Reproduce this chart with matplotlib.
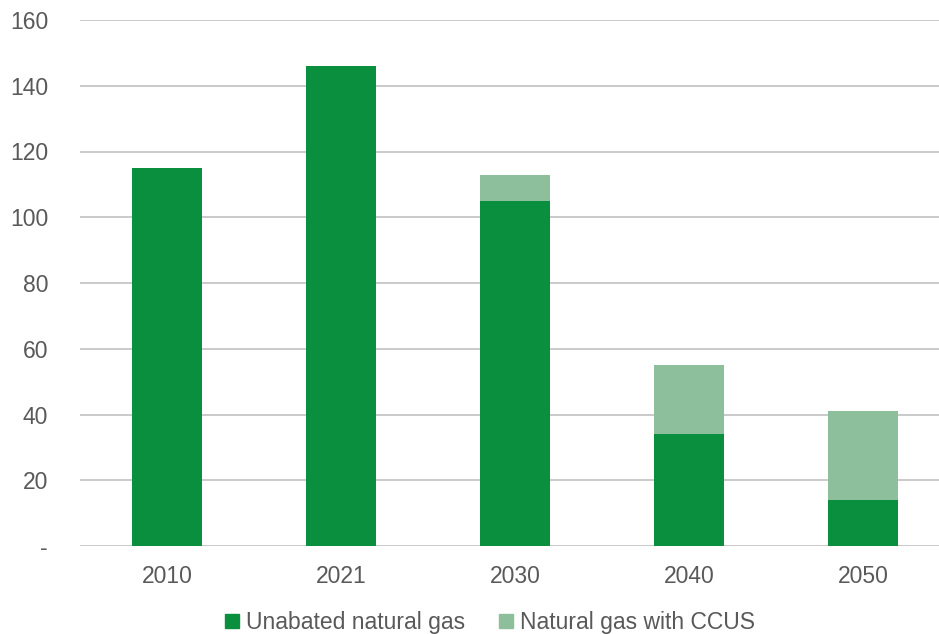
import matplotlib.pyplot as plt
from matplotlib.patches import Patch

plt.rcParams['font.family'] = ['Liberation Sans', 'DejaVu Sans']

years = ['2010', '2021', '2030', '2040', '2050']
unabated = [115, 146, 105, 34, 14]
with_ccus = [0, 0, 8, 21, 27]
y_ticks = [0, 20, 40, 60, 80, 100, 120, 140, 160]
y_labels = ['-', '20', '40', '60', '80', '100', '120', '140', '160']

dark = '#0a8f3e'
light = '#8dbf9d'
text_col = '#595959'

fig = plt.figure(figsize=(9.39, 6.34), dpi=100)
ax = fig.add_axes([80 / 939, 88 / 634, 870 / 939, 526 / 634])

x = range(len(years))
ax.bar(x, unabated, width=0.4, color=dark, zorder=3)
ax.bar(x, with_ccus, width=0.4, bottom=unabated, color=light, zorder=3)

ax.set_xlim(-0.5, len(years) - 0.5)
ax.set_ylim(0, 160)
ax.set_yticks(y_ticks)
ax.set_yticklabels(y_labels)
ax.set_xticks(list(x))
ax.set_xticklabels(years)
ax.grid(axis='y', color='#c6c6c6', linewidth=1.3, zorder=0)
ax.tick_params(length=0, labelsize=16.5, colors=text_col)
ax.tick_params(axis='y', pad=23)
ax.tick_params(axis='x', pad=14)
for s in ax.spines.values():
    s.set_visible(False)

handles = [Patch(color=dark, label='Unabated natural gas'),
           Patch(color=light, label='Natural gas with CCUS')]
fig.legend(handles=handles, loc='center', bbox_to_anchor=(0.522, 0.018),
           ncol=2, frameon=False, fontsize=16.5, labelcolor=text_col,
           handlelength=0.6, handleheight=0.6, handletextpad=0.3,
           columnspacing=1.5)

fig.savefig('out.png', dpi=100, facecolor='white')
